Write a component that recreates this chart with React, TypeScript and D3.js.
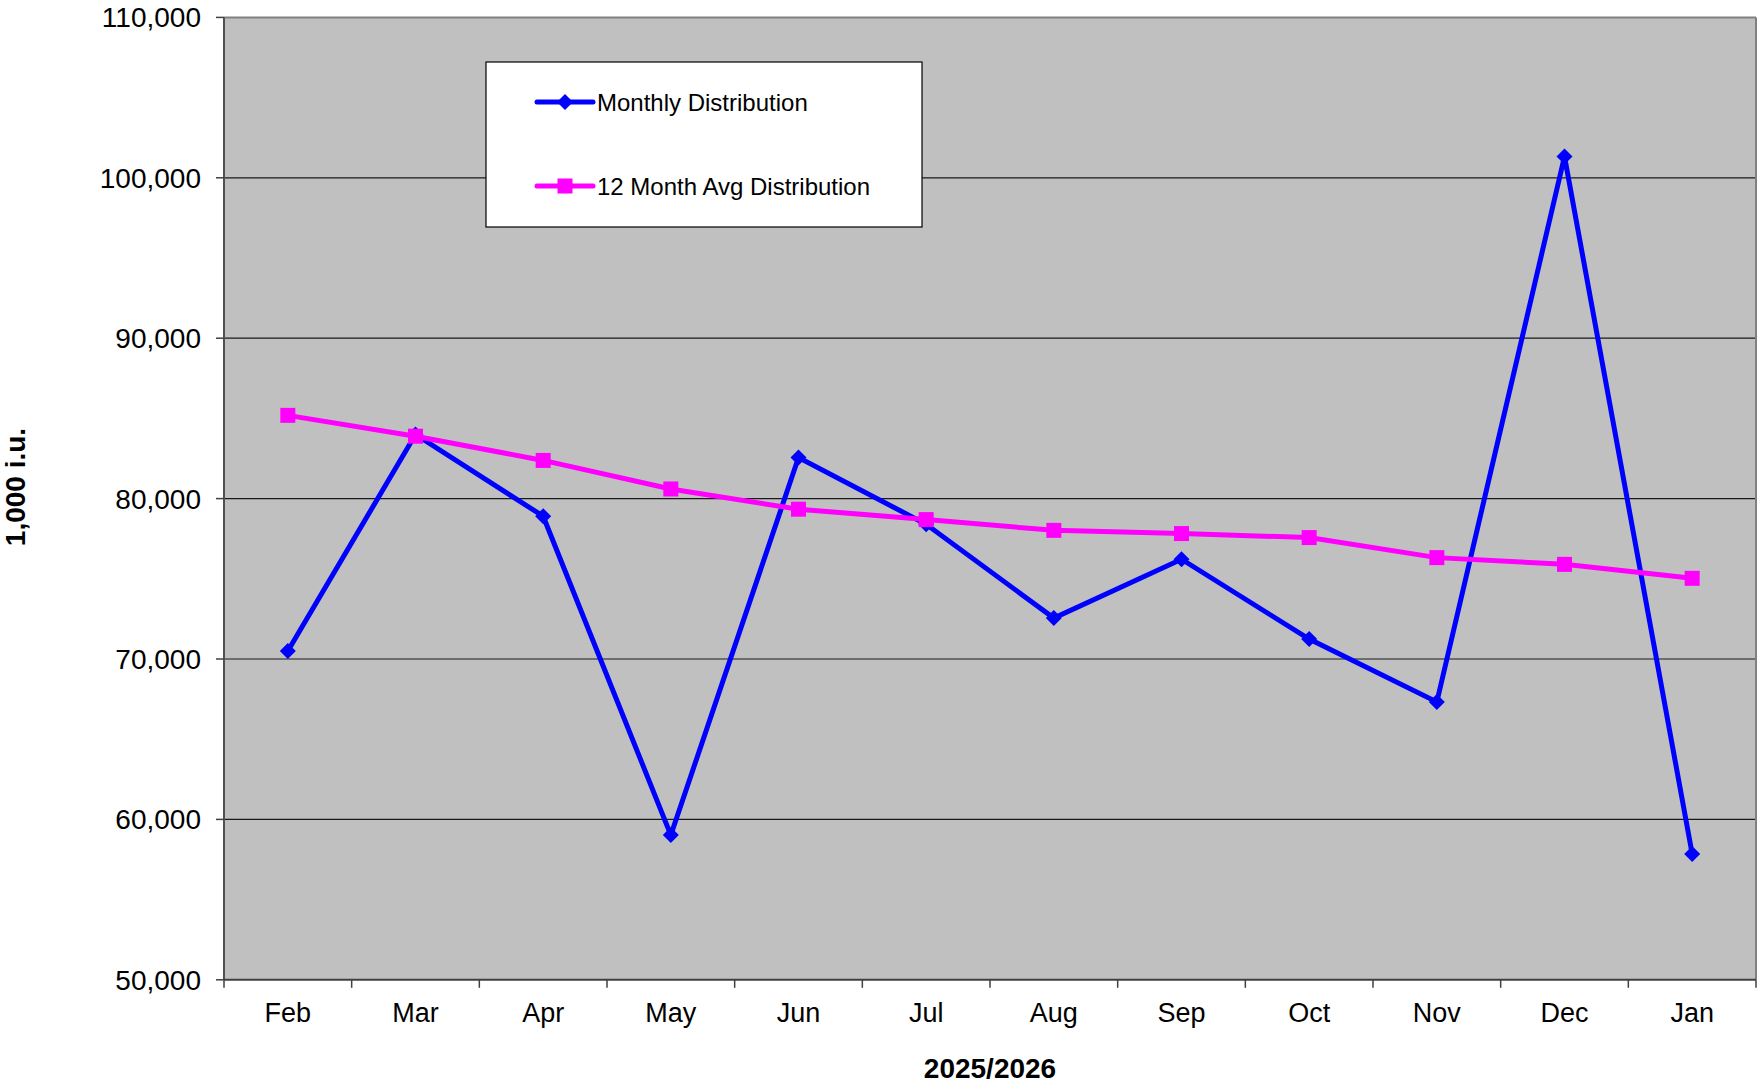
import React from "react";
import * as d3 from "d3";

const months = ["Feb", "Mar", "Apr", "May", "Jun", "Jul", "Aug", "Sep", "Oct", "Nov", "Dec", "Jan"];
const monthly = [70500, 84000, 78900, 59020, 82560, 78400, 72550, 76220, 71240, 67320, 101330, 57850];
const avg12 = [85190, 83890, 82380, 80600, 79340, 78690, 78020, 77820, 77570, 76320, 75900, 75030];
const yTicks = [50000, 60000, 70000, 80000, 90000, 100000, 110000];
const seriesNames = ["Monthly Distribution", "12 Month Avg Distribution"];
const xTitle = "2025/2026";
const yTitle = "1,000 i.u.";

const W = 1759;
const H = 1087;
const L = 224;
const R = 1756;
const T = 17.4;
const B = 979.8;
const FONT = "Arial, 'Liberation Sans', sans-serif";

export default function App() {
  const x = d3.scaleBand<string>().domain(months).range([L, R]);
  const y = d3.scaleLinear().domain([50000, 110000]).range([B, T]);
  const cx = (m: string) => (x(m) as number) + x.bandwidth() / 2;
  const line = d3
    .line<number>()
    .x((_, i) => cx(months[i]))
    .y((v) => y(v));
  const fmt = d3.format(",");
  const diamond = (px: number, py: number, r: number) =>
    `M${px},${py - r}L${px + r},${py}L${px},${py + r}L${px - r},${py}Z`;
  const boundaries = months.map((m) => x(m) as number).concat([R]);

  return (
    <svg
      width={W}
      height={H}
      style={{ position: "absolute", left: 0, top: 0, background: "#fff" }}
      fontFamily={FONT}
    >
      <rect x={L} y={T} width={R - L} height={B - T} fill="#C0C0C0" />
      {yTicks.slice(1, -1).map((t) => (
        <line key={t} x1={L} x2={R} y1={y(t)} y2={y(t)} stroke="#1a1a1a" strokeWidth={1.2} />
      ))}
      {/* frame */}
      <line x1={L} x2={R} y1={T} y2={T} stroke="#808080" strokeWidth={2} />
      <line x1={R} x2={R} y1={T} y2={B} stroke="#808080" strokeWidth={2} />
      <line x1={L} x2={L} y1={T} y2={B} stroke="#505050" strokeWidth={2} />
      <line x1={L} x2={R} y1={B} y2={B} stroke="#404040" strokeWidth={2} />
      {/* y ticks */}
      {yTicks.map((t) => (
        <g key={t}>
          <line x1={L - 8} x2={L} y1={y(t)} y2={y(t)} stroke="#404040" strokeWidth={1.5} />
          <text x={201} y={y(t)} dy="0.36em" textAnchor="end" fontSize={28} fill="#000">
            {fmt(t)}
          </text>
        </g>
      ))}
      {/* x ticks */}
      {boundaries.map((bx, i) => (
        <line key={i} x1={bx} x2={bx} y1={B} y2={B + 8} stroke="#404040" strokeWidth={1.5} />
      ))}
      {months.map((m) => (
        <text key={m} x={cx(m)} y={1022} textAnchor="middle" fontSize={27} fill="#000">
          {m}
        </text>
      ))}
      <text x={(L + R) / 2} y={1078} textAnchor="middle" fontSize={28} fontWeight="bold" fill="#000">
        {xTitle}
      </text>
      <text
        transform={`translate(25,487) rotate(-90)`}
        textAnchor="middle"
        fontSize={28}
        fontWeight="bold"
        fill="#000"
      >
        {yTitle}
      </text>
      {/* series */}
      <path d={line(monthly) || ""} fill="none" stroke="#0000FF" strokeWidth={5} strokeLinejoin="miter" />
      {monthly.map((v, i) => (
        <path key={i} d={diamond(cx(months[i]), y(v), 8)} fill="#0000FF" />
      ))}
      <path d={line(avg12) || ""} fill="none" stroke="#FF00FF" strokeWidth={5} />
      {avg12.map((v, i) => (
        <rect key={i} x={cx(months[i]) - 7.5} y={y(v) - 7.5} width={15} height={15} fill="#FF00FF" />
      ))}
      {/* legend */}
      <rect x={486} y={62} width={436} height={165} fill="#fff" stroke="#000" strokeWidth={1.2} />
      <line x1={537} x2={593} y1={102} y2={102} stroke="#0000FF" strokeWidth={5} strokeLinecap="round" />
      <path d={diamond(565, 102, 8)} fill="#0000FF" />
      <text x={597} y={102} dy="0.36em" fontSize={24} fill="#000">
        {seriesNames[0]}
      </text>
      <line x1={537} x2={593} y1={186} y2={186} stroke="#FF00FF" strokeWidth={5} strokeLinecap="round" />
      <rect x={557.5} y={178.5} width={15} height={15} fill="#FF00FF" />
      <text x={597} y={186} dy="0.36em" fontSize={24} fill="#000">
        {seriesNames[1]}
      </text>
    </svg>
  );
}
